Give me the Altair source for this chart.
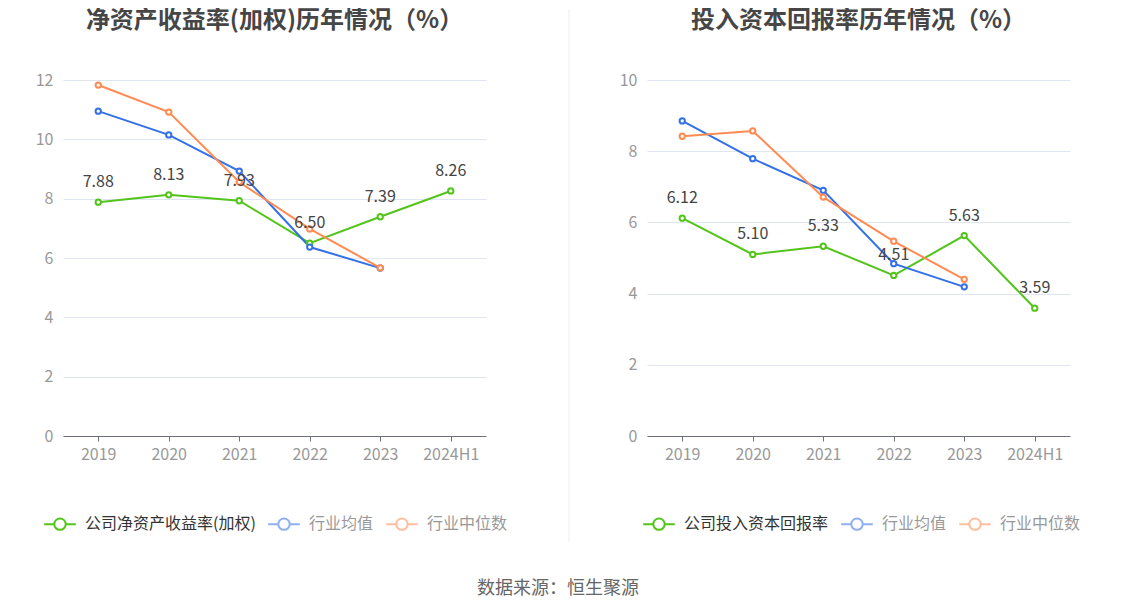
import altair as alt
import pandas as pd

years = ["2019", "2020", "2021", "2022", "2023", "2024H1"]
roe_company = [7.88, 8.13, 7.93, 6.50, 7.39, 8.26]
roe_avg = [10.95, 10.15, 8.93, 6.37, 5.66]
roe_median = [11.83, 10.92, 8.56, 6.98, 5.67]
roic_company = [6.12, 5.10, 5.33, 4.51, 5.63, 3.59]
roic_avg = [8.85, 7.79, 6.90, 4.84, 4.19]
roic_median = [8.42, 8.57, 6.71, 5.47, 4.40]

GREEN = "#52c41a"
BLUE = "#3470e6"
ORANGE = "#ff8a52"
FONT = "Noto Sans CJK SC"
SYM = "M-1,0H-0.36M0.36,0H1M-0.36,0A0.36,0.36,0,1,1,0.36,0A0.36,0.36,0,1,1,-0.36,0"


def panel(title, cname, comp, avg, med, ymax, step, legend_x, rule_x, rule_opacity):
    rows = []
    for s, vals in [(cname, comp), ("行业均值", avg), ("行业中位数", med)]:
        for y, v in zip(years, vals):
            rows.append({"year": y, "value": v, "series": s})
    df = pd.DataFrame(rows)
    domain = [cname, "行业均值", "行业中位数"]
    legend = alt.Legend(
        orient="none", legendX=legend_x, legendY=427, direction="horizontal", title=None,
        symbolType=SYM, symbolSize=1000, symbolStrokeWidth=2, symbolFillColor="white",
        labelFontSize=16, labelFont=FONT, columnPadding=8, labelOffset=8, labelLimit=300,
        labelColor=alt.ExprRef("datum.value == '%s' ? '#333' : '#999'" % cname),
        symbolOpacity=alt.ExprRef("datum.value == '%s' ? 1 : 0.55" % cname),
    )
    color = alt.Color("series:N", scale=alt.Scale(domain=domain, range=[GREEN, BLUE, ORANGE]), legend=legend)
    x = alt.X("year:N", sort=years, title=None, scale=alt.Scale(type="point", padding=0.5),
              axis=alt.Axis(labelAngle=0, labelColor="#999", labelFontSize=16, labelFont=FONT,
                            domainColor="#6e7079", tickColor="#6e7079", tickSize=5, labelPadding=5, grid=False))
    y = alt.Y("value:Q", title=None, scale=alt.Scale(domain=[0, ymax], nice=False),
              axis=alt.Axis(values=list(range(0, ymax + 1, step)), labelColor="#999", labelFontSize=16,
                            labelFont=FONT, domain=False, ticks=False, gridColor="#e0e6f1", labelPadding=10))
    base = alt.Chart(df).encode(x=x, y=y)
    rule = alt.Chart(pd.DataFrame({"a": [0]})).mark_rule(
        color="#eeeeee", strokeWidth=1, opacity=rule_opacity).encode(
        x=alt.value(rule_x), y=alt.value(-71), y2=alt.value(462))
    lines = base.mark_line(strokeWidth=2).encode(color=color, detail="series:N")
    points = base.mark_point(filled=False, fill="white", size=28, strokeWidth=2, opacity=1).encode(color=color)
    labels = base.transform_filter(alt.datum.series == cname).mark_text(
        dy=-20, fontSize=16, color="#444", font=FONT).encode(text=alt.Text("value:Q", format=".2f"))
    return alt.layer(rule, lines, points, labels).properties(
        width=423, height=356,
        title=alt.TitleParams(title, fontSize=24, fontWeight="bold", color="#464646", font=FONT,
                              anchor="middle", offset=-24),
    )


left = panel("净资产收益率(加权)历年情况（%）", "公司净资产收益率(加权)", roe_company, roe_avg, roe_median,
             12, 2, -20, 506, 1)
right = panel("投入资本回报率历年情况（%）", "公司投入资本回报率", roic_company, roic_avg, roic_median,
              10, 2, -5, 0, 0)

chart = alt.hconcat(left, right, spacing=49).resolve_scale(color="independent", y="independent").properties(
    padding={"left": 27, "top": 0, "right": 0, "bottom": 0},
    title=alt.TitleParams("数据来源：恒生聚源", orient="bottom", anchor="middle", fontSize=18, color="#666",
                          fontWeight="normal", font=FONT, offset=37),
).configure_view(stroke=None)

chart.save("out.html", embed_options={"renderer": "svg", "actions": False})
